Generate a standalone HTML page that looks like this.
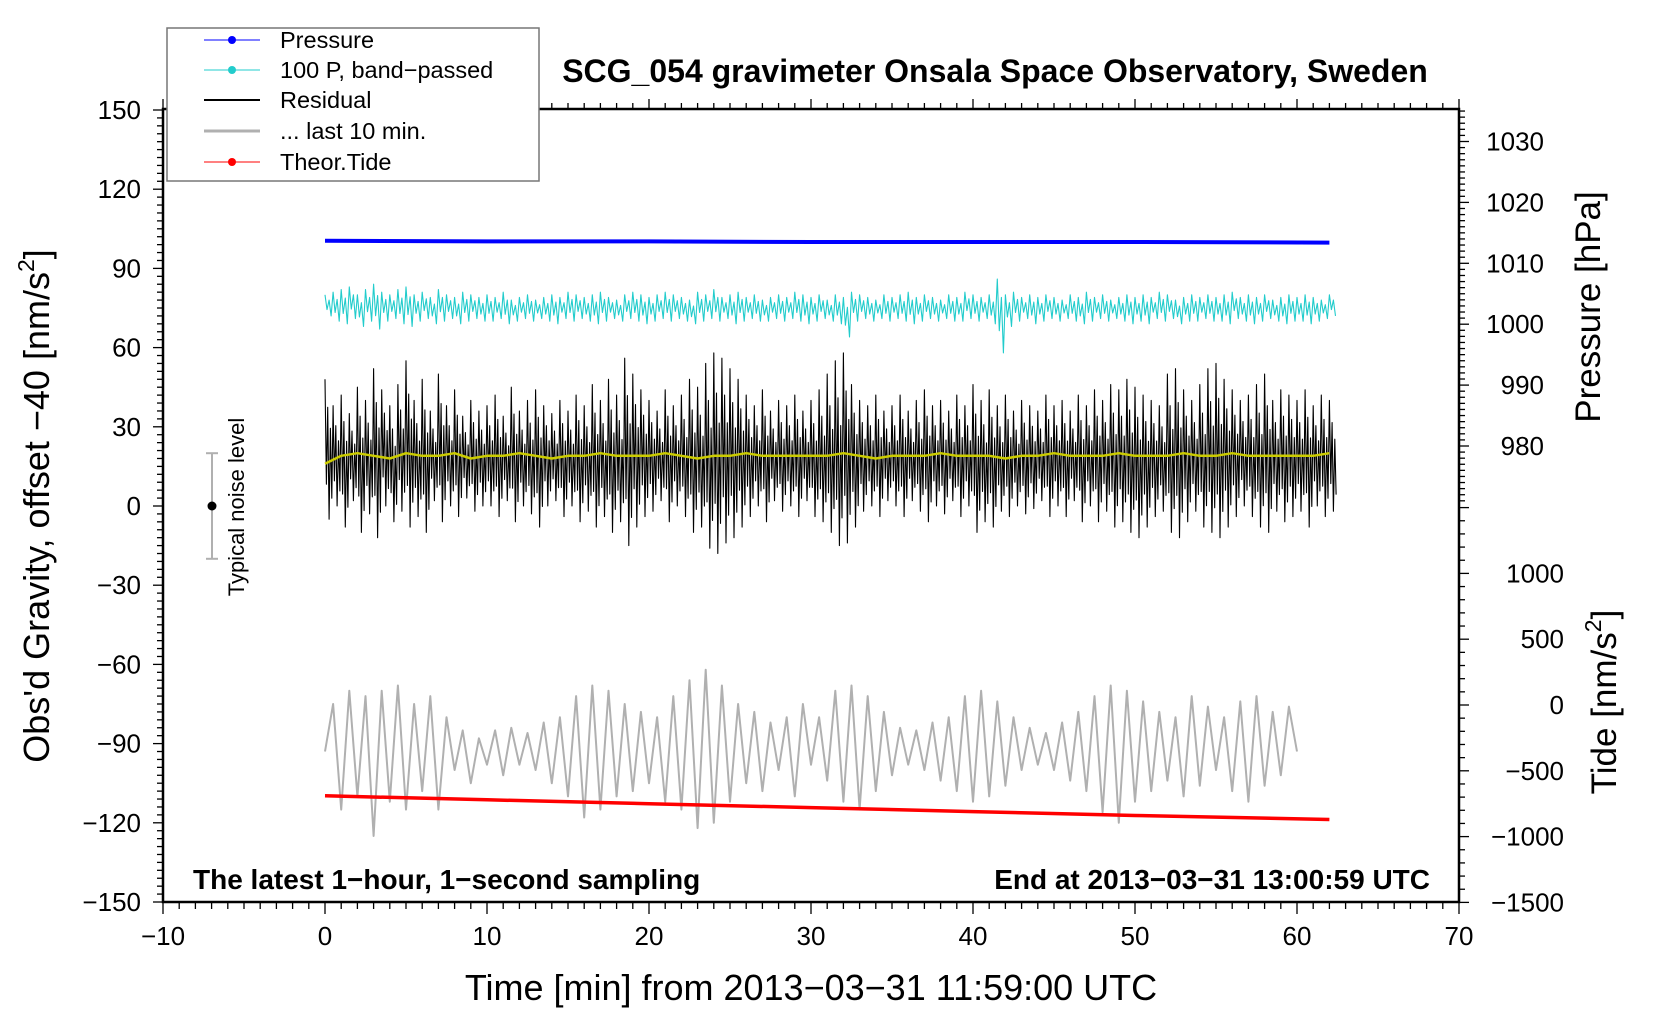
<!DOCTYPE html>
<html><head><meta charset="utf-8"><style>
html,body{margin:0;padding:0;background:#fff;}
svg{display:block;font-family:"Liberation Sans",sans-serif;}
</style></head><body>
<svg id="chart" width="1660" height="1020" viewBox="0 0 1660 1020" xmlns="http://www.w3.org/2000/svg">
<g id="marks"></g>
<g id="axes"></g>
</svg>
<script>
const residualHi=[48,38,42,35,45,40,52,44,38,46, 55,40,48,36,50,38,44,34,40,36, 38,42,34,45,36,40,44,38,35,40, 36,42,38,46,40,48,42,56,50,44, 40,36,44,38,42,48,45,54,58,56, 52,48,42,38,44,36,40,38,42,36, 40,44,50,55,58,46,40,38,42,36, 38,42,36,40,44,38,40,36,42,38, 46,40,44,38,42,36,40,38,36,42, 38,40,36,42,38,44,40,46,44,48, 45,42,40,38,50,52,44,40,46,52, 54,48,44,40,42,46,50,40,44,42, 40,44,38,42,40];
const residualLo=[-5,0,-8,2,-10,-3,-12,0,-6,-2, -8,-4,-10,2,-6,0,-4,3,-2,0, 0,-4,2,-6,0,-3,-8,0,2,-4, 0,-6,-2,-8,-4,-10,-6,-15,-8,-4, -2,2,-6,0,-4,-10,-8,-16,-18,-14, -12,-8,-4,0,-6,2,-2,0,-4,2, -4,-6,-10,-15,-14,-8,-2,0,-4,2, 0,-4,2,-2,-6,0,-3,2,-4,0, -10,-6,-8,-2,-4,0,-3,-1,2,-4, 0,-4,2,-6,0,-6,-2,-8,-6,-10, -12,-8,-4,-2,-10,-12,-6,-2,-8,-10, -12,-8,-4,0,-4,-8,-10,-2,-6,-4, -2,-8,0,-4,-2];
const cyanHi=[80,81,82,83,80,82,84,81,80,82, 83,80,81,79,82,80,79,81,80,79, 80,79,81,78,79,80,78,79,80,79, 81,80,79,80,81,79,78,80,81,80, 79,80,81,80,79,78,81,80,82,79, 80,81,79,80,78,79,80,79,81,80, 79,80,78,80,79,81,80,79,78,80, 79,80,81,79,80,79,78,80,79,81, 80,79,80,86,80,81,79,80,79,80, 79,78,80,79,81,79,80,78,79,80, 79,80,79,81,80,78,79,80,79,80, 79,80,81,79,80,79,80,78,79,80, 79,80,79,78,80];
const cyanLo=[72,70,69,71,68,70,67,70,71,69, 68,70,71,69,70,71,69,70,71,70, 70,71,69,70,71,70,71,70,69,71, 70,71,70,69,70,71,70,71,70,69, 70,71,70,71,70,69,70,71,70,71, 69,70,71,70,70,71,70,71,70,69, 70,71,70,69,64,70,71,70,71,70, 71,70,69,70,71,70,71,70,70,71, 70,71,69,58,68,70,71,69,70,71, 70,71,70,69,70,71,70,71,70,69, 70,69,71,70,71,69,70,70,71,70, 70,69,71,70,69,70,71,70,69,70, 70,69,70,71,72];
const grayVals=[-93,-75,-115,-70,-110,-72,-125,-70,-112,-68, -115,-75,-108,-72,-115,-80,-100,-85,-105,-88, -98,-85,-102,-84,-98,-86,-100,-82,-105,-80, -110,-72,-118,-68,-115,-70,-110,-75,-108,-78, -105,-80,-112,-72,-115,-66,-122,-62,-120,-68, -112,-75,-105,-78,-108,-82,-100,-80,-110,-75, -98,-80,-104,-70,-112,-68,-115,-72,-108,-78, -102,-84,-98,-85,-100,-82,-104,-80,-108,-72, -112,-70,-110,-74,-106,-80,-100,-84,-98,-86, -100,-82,-104,-78,-108,-72,-116,-68,-120,-70, -112,-74,-108,-78,-104,-80,-110,-72,-106,-76, -100,-80,-108,-74,-112,-72,-106,-78,-102,-76, -93];
const yellowVals=[16,19,20,19,18,20,19,19,20,18, 19,19,20,19,18,19,19,20,19,19, 19,20,19,18,19,19,20,19,19,19, 19,19,20,19,18,19,19,19,20,19, 19,19,18,19,19,20,19,19,19,20, 19,19,19,20,19,19,20,19,19,19, 19,19,20];
const pressureVals=[1013.7,1013.6,1013.6,1013.5,1013.5,1013.5,1013.4];
const tideVals=[-690,-720,-750,-780,-810,-840,-870];
const seriesTimes=[0,10,20,30,40,50,62];
const xTicks=[-10,0,10,20,30,40,50,60,70];
const yTicks=[150,120,90,60,30,0,-30,-60,-90,-120,-150];
const pTicks=[1030,1020,1010,1000,990,980];
const tTicks=[1000,500,0,-500,-1000,-1500];

const L=163,R=1459,T=109,B=902;
const X=t=>325+t*16.2;
const Y=v=>506-v*2.64;
const YP=p=>446-(p-980)*6.09;
const YT=t=>705-t*0.1316;
const NS="http://www.w3.org/2000/svg";
const marks=document.getElementById('marks'), axes=document.getElementById('axes');
function mk(tag,attrs,parent){const e=document.createElementNS(NS,tag);for(const k in attrs)e.setAttribute(k,attrs[k]);(parent||marks).appendChild(e);return e;}
function poly(pts,stroke,w,name){const e=mk('polyline',{points:pts.map(p=>p[0].toFixed(1)+','+p[1].toFixed(1)).join(' '),fill:'none',stroke:stroke,'stroke-width':w,'stroke-linejoin':'round'});


return e;}
const rFac=[1,-0.5,0.6,-1,0.3,-0.7];
const cFac=[1,-0.4,0.5,-1];

poly(seriesTimes.map((t,i)=>[X(t),YP(pressureVals[i])]),'#0000ff',4,'pressure-line');
let cp=[];cyanHi.forEach((h,i)=>{const c=(h+cyanLo[i])/2,a=(h-cyanLo[i])/2;cFac.forEach((f,k)=>cp.push([X(i*0.5+k*0.5/cFac.length),Y(c+f*a)]));});
poly(cp,'#22cccc',1.1,'band-passed-pressure-line');
let rp=[];residualHi.forEach((h,i)=>{const c=(h+residualLo[i])/2,a=(h-residualLo[i])/2;rFac.forEach((f,k)=>rp.push([X(i*0.5+k*0.5/rFac.length),Y(c+f*a)]));});
poly(rp,'#000',1.1,'residual-line');
poly(yellowVals.map((v,i)=>[X(i),Y(v)]),'#cccc00',2.5,'residual-mean-line');
poly(grayVals.map((v,i)=>[X(i*0.5),Y(v)]),'#b0b0b0',2,'last-10-min-line');
poly(seriesTimes.map((t,i)=>[X(t),YT(tideVals[i])]),'#ff0000',3.5,'theoretical-tide-line');

const fr=mk('rect',{x:L,y:T,width:R-L,height:B-T,fill:'none',stroke:'#000','stroke-width':2.5},axes);


function line(x1,y1,x2,y2,w){mk('line',{x1,y1,x2,y2,stroke:'#000','stroke-width':w||1.3},axes);}
function txt(s,x,y,opt){const e=mk('text',Object.assign({x,y,'font-size':26,fill:'#000'},opt||{}),axes);e.textContent=s;return e;}
for(let t=-10;t<=70;t++){const maj=t%10===0;line(X(t),B,X(t),B+(maj?12:7));line(X(t),T,X(t),T-(maj?10:6));}
xTicks.forEach(t=>{const e=txt(String(t).replace('-','\u2212'),X(t),945,{'text-anchor':'middle'});});
for(let v=-150;v<=150;v+=3){const maj=v%30===0;line(L,Y(v),L-(maj?10:6),Y(v));}
yTicks.forEach(v=>{const e=txt(String(v).replace('-','\u2212'),141,Y(v)+9,{'text-anchor':'end'});});
for(let p=971;p<=1035;p++){const maj=p%10===0;line(R,YP(p),R+(maj?10:6),YP(p));}
pTicks.forEach(p=>{const e=txt(String(p),1544,YP(p)+9,{'text-anchor':'end'});});
for(let t=-1500;t<=1500;t+=100){const maj=t%500===0;if(YT(t)<505)continue;line(R,YT(t),R+(maj?10:6),YT(t));}
tTicks.forEach(t=>{const e=txt(String(t).replace('-','\u2212'),1564,YT(t)+9,{'text-anchor':'end'});});

const nb=mk('g',{},axes);
mk('line',{x1:212,y1:Y(20),x2:212,y2:Y(-20),stroke:'#b0b0b0','stroke-width':2},nb);
mk('line',{x1:206,y1:Y(20),x2:218,y2:Y(20),stroke:'#b0b0b0','stroke-width':2},nb);
mk('line',{x1:206,y1:Y(-20),x2:218,y2:Y(-20),stroke:'#b0b0b0','stroke-width':2},nb);
mk('circle',{cx:212,cy:Y(0),r:4.5,fill:'#000'},nb);
</script>
<svg width="1660" height="1020" style="position:absolute;left:0;top:0" xmlns="http://www.w3.org/2000/svg">
<text x="244" y="507" font-size="22" text-anchor="middle" transform="rotate(-90 244 507)">Typical noise level</text>
<text x="995" y="82" font-size="32" font-weight="bold" text-anchor="middle">SCG_054 gravimeter Onsala Space Observatory, Sweden</text>
<text x="811" y="1000" font-size="36" text-anchor="middle">Time [min] from 2013−03−31 11:59:00 UTC</text>
<text x="49" y="506" font-size="36" text-anchor="middle" transform="rotate(-90 49 506)">Obs'd Gravity, offset −40 [nm/s<tspan font-size="23" dy="-15">2</tspan><tspan dy="15">]</tspan></text>
<text x="1600" y="307" font-size="35" text-anchor="middle" transform="rotate(-90 1600 307)">Pressure [hPa]</text>
<text x="1616" y="702" font-size="35" text-anchor="middle" transform="rotate(-90 1616 702)">Tide [nm/s<tspan font-size="23" dy="-15">2</tspan><tspan dy="15">]</tspan></text>
<text x="193" y="889" font-size="28" font-weight="bold">The latest 1−hour, 1−second sampling</text>
<text x="1430" y="889" font-size="28" font-weight="bold" text-anchor="end">End at 2013−03−31 13:00:59 UTC</text>
<g font-size="23.5">
<rect x="167" y="28" width="372" height="153" fill="#fff" stroke="#777" stroke-width="1.5"/>
<g><line x1="204" y1="40" x2="260" y2="40" stroke="#0000ff" stroke-width="1"/><circle cx="232" cy="40" r="4" fill="#0000ff"/><text x="280" y="48">Pressure</text></g>
<g><line x1="204" y1="70" x2="260" y2="70" stroke="#22cccc" stroke-width="1"/><circle cx="232" cy="70" r="4" fill="#22cccc"/><text x="280" y="78">100 P, band−passed</text></g>
<g><line x1="204" y1="100" x2="260" y2="100" stroke="#000" stroke-width="2"/><text x="280" y="108">Residual</text></g>
<g><line x1="204" y1="131" x2="260" y2="131" stroke="#b0b0b0" stroke-width="3"/><text x="280" y="139">... last 10 min.</text></g>
<g><line x1="204" y1="162" x2="260" y2="162" stroke="#ff0000" stroke-width="1"/><circle cx="232" cy="162" r="4" fill="#ff0000"/><text x="280" y="170">Theor.Tide</text></g>
</g>
</svg>
</body></html>
